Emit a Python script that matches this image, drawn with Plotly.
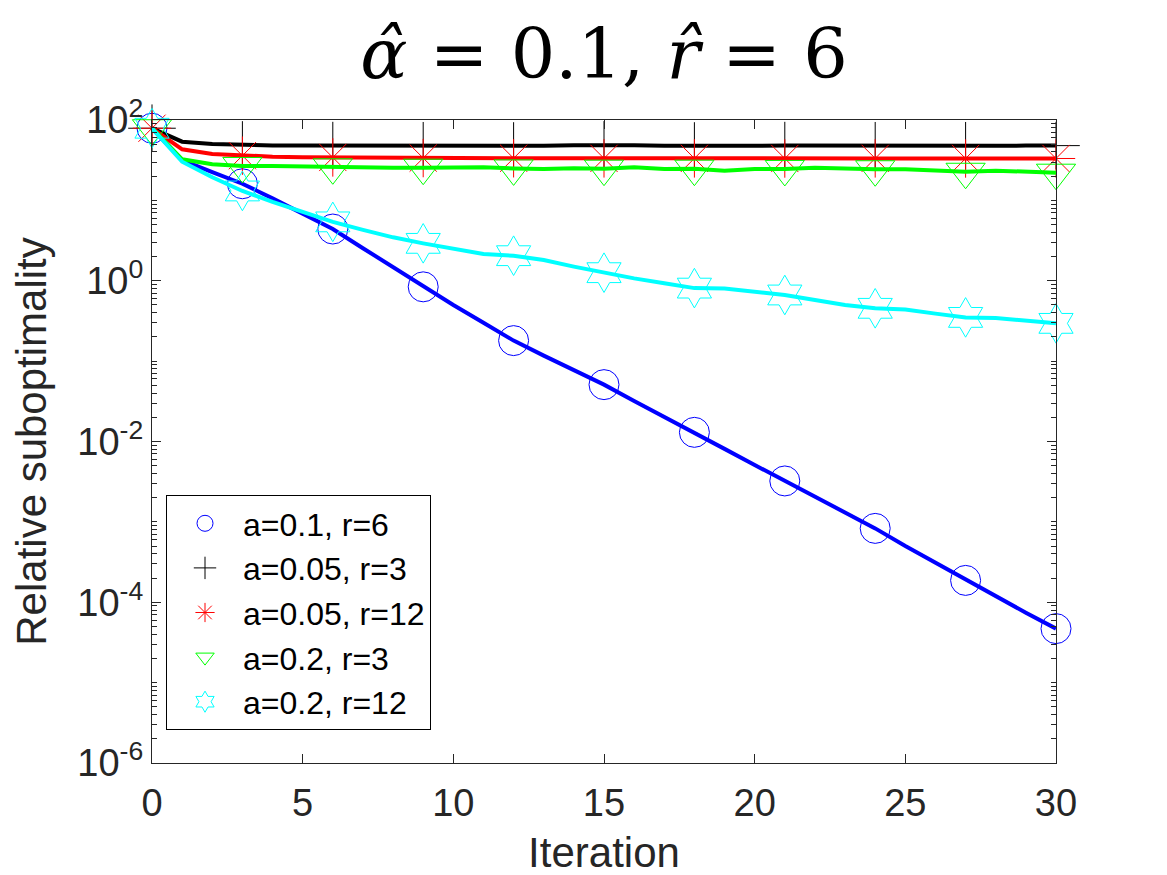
import plotly.graph_objects as go

iterations = list(range(31))

blue_a01_r6 = [79, 31.6, 22.5, 16.1, 10.6, 6.8, 4.4, 2.54, 1.47, 0.84, 0.50, 0.30, 0.18, 0.117, 0.078,
               0.051, 0.032, 0.0204, 0.013, 0.0081, 0.0051, 0.00323, 0.00204, 0.00132, 0.00083,
               0.0005, 0.00031, 0.000187, 0.000117, 0.000074, 0.000047]
black_a005_r3 = [79, 53.7, 50.3, 48.9, 48.2, 48.2, 48.0, 48.2, 48.2, 47.8, 47.8, 47.5, 47.5, 47.8, 48.5,
                 49.0, 48.5, 47.8, 47.5, 47.5, 47.8, 48.0, 47.8, 47.8, 47.8, 47.5, 47.5, 47.8, 47.8,
                 48.0, 48.0]
red_a005_r12 = [79, 43.2, 37.8, 36.0, 35.0, 34.5, 34.2, 34.0, 33.8, 33.6, 33.5, 33.5, 33.4, 33.4, 33.3,
                33.3, 33.4, 33.4, 33.3, 33.3, 33.3, 33.2, 33.2, 33.2, 33.3, 33.3, 33.2, 33.2, 33.2,
                33.2, 33.2]
green_a02_r3 = [79, 32.4, 28.1, 26.8, 26.8, 26.3, 25.8, 25.5, 25.5, 25.5, 25.5, 25.8, 25.0, 24.6, 25.1,
                24.8, 25.8, 24.6, 24.8, 23.4, 24.6, 24.6, 25.5, 24.6, 24.4, 24.4, 23.7, 22.7, 23.4,
                22.7, 22.1]
cyan_a02_r12 = [79, 30.3, 19.4, 13.1, 9.6, 7.2, 5.4, 4.3, 3.47, 2.92, 2.54, 2.15, 2.05, 1.81, 1.50,
                1.26, 1.07, 0.93, 0.81, 0.80, 0.72, 0.665, 0.575, 0.50, 0.454, 0.44, 0.39, 0.35,
                0.345, 0.32, 0.295]

series_names = ["a=0.1, r=6", "a=0.05, r=3", "a=0.05, r=12", "a=0.2, r=3", "a=0.2, r=12"]
series_values = [blue_a01_r6, black_a005_r3, red_a005_r12, green_a02_r3, cyan_a02_r12]
series_colors = ["#0000FF", "#000000", "#FF0000", "#00FF00", "#00FFFF"]
series_symbols = ["circle-open", "cross-thin-open", "asterisk-open", "triangle-down-open", "hexagram-open"]
series_sizes = [30, 34, 32, 34, 30]

xtick_vals = [0, 5, 10, 15, 20, 25, 30]
ytick_vals = [1e-6, 1e-4, 1e-2, 1e0, 1e2]
ytick_text = ["10<sup>-6</sup>", "10<sup>-4</sup>", "10<sup>-2</sup>", "10<sup>0</sup>", "10<sup>2</sup>"]

marker_step = 3

fig = go.Figure()
for name, vals, col, sym, sz in zip(series_names, series_values, series_colors, series_symbols, series_sizes):
    fig.add_trace(go.Scatter(x=iterations, y=vals, mode="lines",
                             line=dict(color=col, width=4), showlegend=False, hoverinfo="skip"))
    fig.add_trace(go.Scatter(x=iterations[::marker_step], y=vals[::marker_step], mode="markers", name=name,
                             cliponaxis=False,
                             marker=dict(symbol=sym, size=sz, color=col, line=dict(color=col, width=1))))

minor_vals = [k * 10.0 ** d for d in range(-6, 2) for k in range(1, 10)
              if not (k == 1 and (10.0 ** d) in ytick_vals)]

axis_col = "#262626"
sans = "Liberation Sans, Arial, sans-serif"
tick_font = dict(family=sans, size=38, color=axis_col)

fig.update_layout(
    width=1167, height=875,
    paper_bgcolor="white", plot_bgcolor="white",
    margin=dict(l=144, r=119, t=112, b=120),
    title=dict(text="<i>α\u0302</i> = 0.1, <i>r\u0302</i> = 6", xref="paper", x=0.5, xanchor="center",
               y=0.948, yanchor="middle",
               font=dict(family="DejaVu Serif, serif", size=70, color="black")),
    xaxis=dict(range=[0, 30], tickvals=xtick_vals, ticks="inside", ticklen=9, tickcolor=axis_col,
               showline=True, linecolor=axis_col, linewidth=1.3, mirror="ticks", showgrid=False,
               zeroline=False, tickfont=tick_font, ticklabelstandoff=6,
               title=dict(text="Iteration", font=dict(family=sans, size=42, color=axis_col), standoff=14)),
    yaxis=dict(type="log", range=[-6, 2], tickvals=ytick_vals, ticktext=ytick_text, ticks="inside",
               ticklen=9, tickcolor=axis_col, showline=True, linecolor=axis_col, linewidth=1.3,
               mirror="ticks", showgrid=False, zeroline=False, tickfont=tick_font,
               minor=dict(tickvals=minor_vals, ticks="inside", ticklen=5, tickcolor=axis_col, showgrid=False),
               title=dict(text="Relative suboptimality",
                          font=dict(family=sans, size=42, color=axis_col), standoff=17)),
    legend=dict(x=0.0155, y=0.4168, xanchor="left", yanchor="top", bgcolor="white",
                bordercolor="black", borderwidth=1,
                font=dict(family=sans, size=32, color="black"),
                itemwidth=66, tracegroupgap=0),
    showlegend=True,
)

fig.write_html("out.html")
